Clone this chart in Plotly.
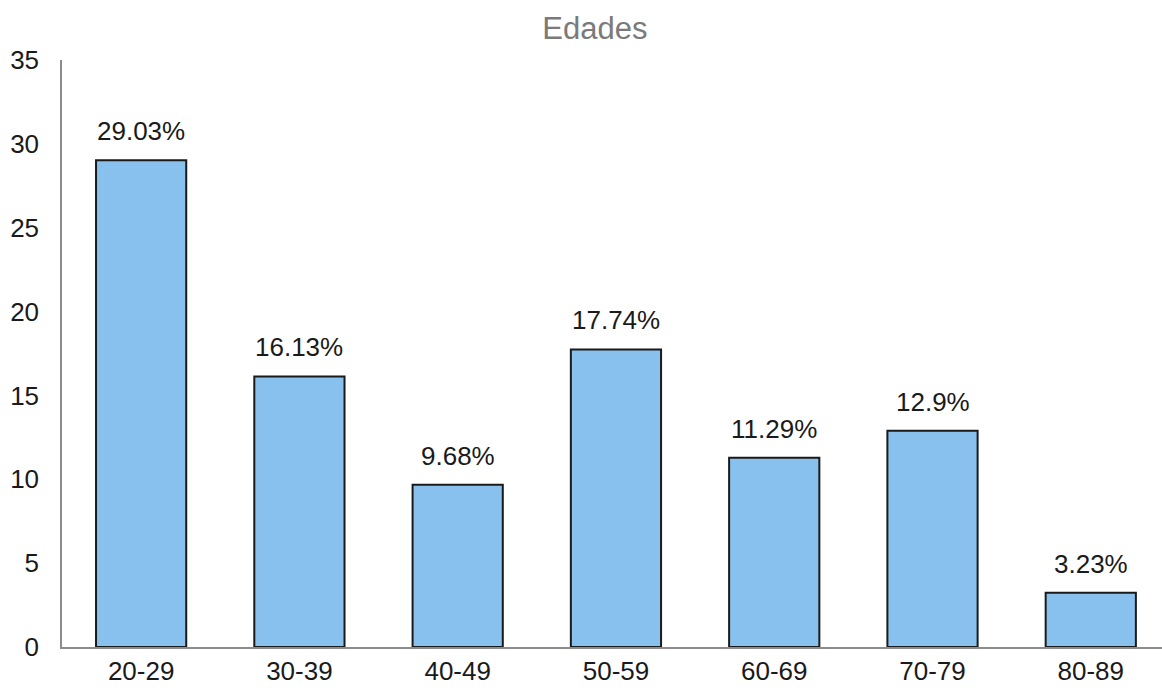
import plotly.graph_objects as go

# Age distribution (percent of respondents per age group)
grupos = ["20-29", "30-39", "40-49", "50-59", "60-69", "70-79", "80-89"]
porcentajes = [29.03, 16.13, 9.68, 17.74, 11.29, 12.9, 3.23]
y_ticks = [0, 5, 10, 15, 20, 25, 30, 35]

etiquetas = [f"{v:g}%" for v in porcentajes]

fig = go.Figure(
    go.Bar(
        x=grupos,
        y=porcentajes,
        marker=dict(color="#88C1EE", line=dict(color="#1a1a1a", width=2)),
        width=0.57,
    )
)

# Value labels placed a little above each bar top
for g, v, t in zip(grupos, porcentajes, etiquetas):
    fig.add_annotation(
        x=g,
        y=v,
        text=t,
        showarrow=False,
        yanchor="bottom",
        yshift=12,
        font=dict(size=26, color="#1a1a1a"),
    )

fig.update_layout(
    width=1162,
    height=693,
    margin=dict(l=62, r=0, t=60, b=46),
    paper_bgcolor="white",
    plot_bgcolor="white",
    font=dict(family="Liberation Sans, Arial, sans-serif", size=26, color="#1a1a1a"),
    title=dict(
        text="Edades",
        x=0.512,
        xanchor="center",
        y=0.96,
        yanchor="middle",
        font=dict(size=31, color="#7a7a7a"),
    ),
    showlegend=False,
)

fig.update_xaxes(
    range=[-0.5, 6.45],
    showline=True,
    linecolor="#8c8c8c",
    linewidth=1.5,
    showgrid=False,
    ticks="",
    tickfont=dict(size=26),
)
fig.update_yaxes(
    range=[0, 35],
    tickvals=y_ticks,
    showline=True,
    linecolor="#8c8c8c",
    linewidth=1.5,
    showgrid=False,
    zeroline=False,
    ticks="",
    ticklabelstandoff=16,
    tickfont=dict(size=26),
)

fig.write_html("out.html")
